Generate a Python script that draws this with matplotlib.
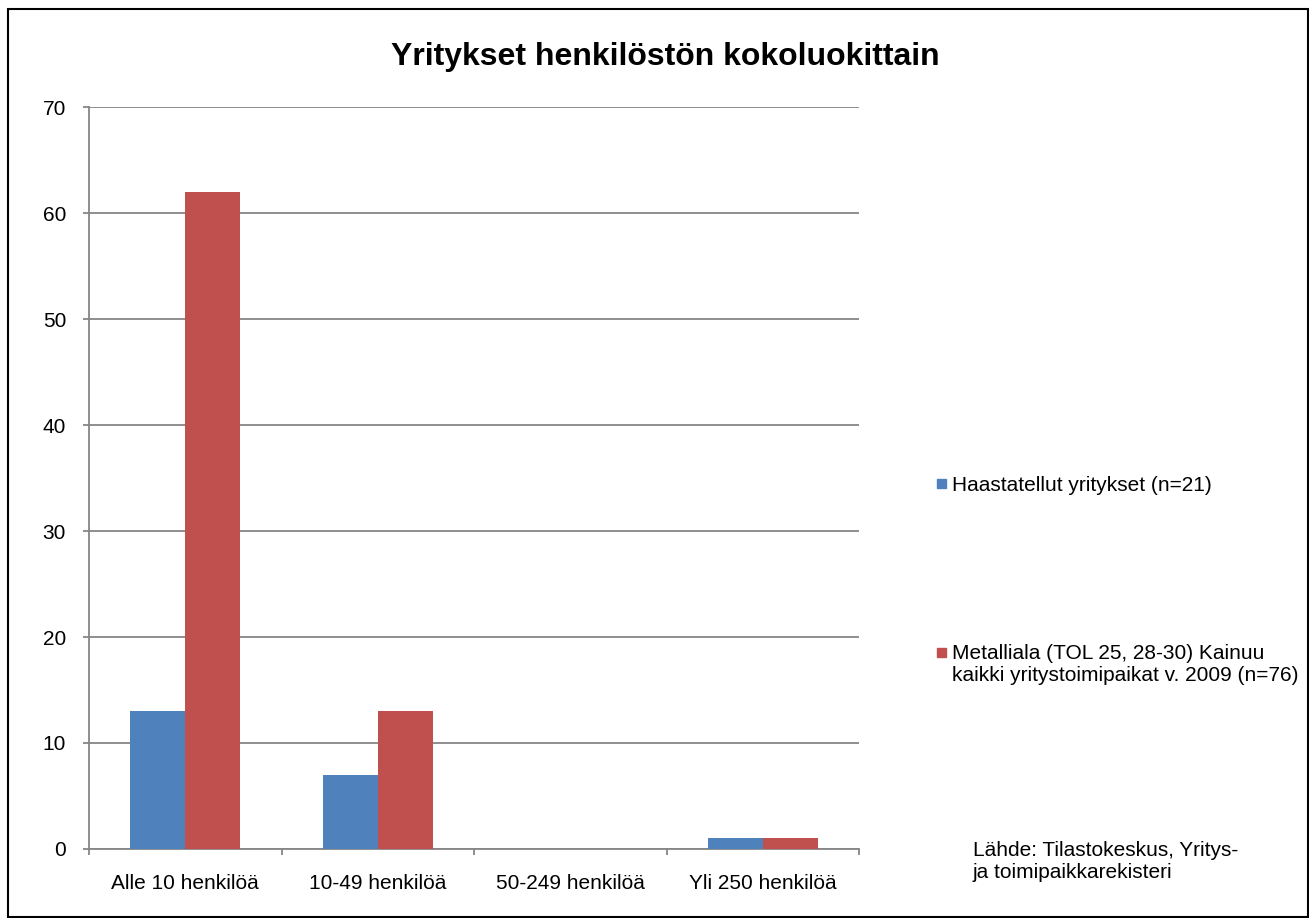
import matplotlib.pyplot as plt
import matplotlib.patches as mpatches
import numpy as np

categories = ['Alle 10 henkilöä', '10-49 henkilöä', '50-249 henkilöä', 'Yli 250 henkilöä']
haastatellut = [13, 7, 0, 1]
metalliala = [62, 13, 0, 1]
series_names = ['Haastatellut yritykset (n=21)',
                'Metalliala (TOL 25, 28-30) Kainuu\nkaikki yritystoimipaikat v. 2009 (n=76)']
series_colors = ['#4F81BD', '#C0504D']
yticks = [0, 10, 20, 30, 40, 50, 60, 70]

plt.rcParams['font.family'] = ['Liberation Sans', 'DejaVu Sans']

W, H = 1309, 918
fig = plt.figure(figsize=(W / 100, H / 100), dpi=100)
ax = fig.add_axes([89/W, 1 - 849/H, 770/W, 742/H])

x = np.arange(len(categories))
w = 0.286
ax.bar(x - w/2, haastatellut, w, color=series_colors[0], zorder=3)
ax.bar(x + w/2, metalliala, w, color=series_colors[1], zorder=3)

ax.set_xlim(-0.5, len(categories) - 0.5)
ax.set_ylim(0, 70)
ax.set_yticks(yticks)
ax.yaxis.grid(True, color='#868686', linewidth=1.3, zorder=0)
ax.set_axisbelow(True)

# category boundaries get the tick marks, labels sit in the middle
ax.set_xticks(np.arange(-0.5, len(categories), 1))
ax.set_xticklabels([])
ax.set_xticks(x, minor=True)
ax.set_xticklabels(categories, minor=True, fontsize=15)
ax.tick_params(axis='x', which='minor', length=0, pad=18)
ax.tick_params(axis='x', which='major', length=4.5, color='#868686', width=1.3)
ax.tick_params(axis='y', length=4.5, color='#868686', width=1.3, labelsize=15, pad=12)

for s in ['top', 'right']:
    ax.spines[s].set_visible(False)
for s in ['left', 'bottom']:
    ax.spines[s].set_color('#868686')
    ax.spines[s].set_linewidth(1.3)

fig.text(665/W, 1 - 57/H, 'Yritykset henkilöstön kokoluokittain',
         ha='center', va='center', fontsize=23, fontweight='bold')

# legend drawn by hand so the square lines up with the first text line
for name, col, ycen in zip(series_names, series_colors, [484, 652]):
    fig.add_artist(mpatches.Rectangle((937/W, 1 - (ycen + 4.5)/H), 9/W, 9/H,
                                      transform=fig.transFigure, color=col))
    fig.text(952/W, 1 - (ycen - 8)/H, name, ha='left', va='top',
             fontsize=15, linespacing=1.18)

fig.text(973/W, 1 - 841/H, 'Lähde: Tilastokeskus, Yritys-\nja toimipaikkarekisteri',
         ha='left', va='top', fontsize=15, linespacing=1.18)

fig.add_artist(mpatches.Rectangle((8/W, 0.001), 1 - 9/W, 1 - 9/H - 0.001,
                                  transform=fig.transFigure, fill=False,
                                  edgecolor='black', linewidth=1.5))

fig.savefig('out.png', dpi=100)
